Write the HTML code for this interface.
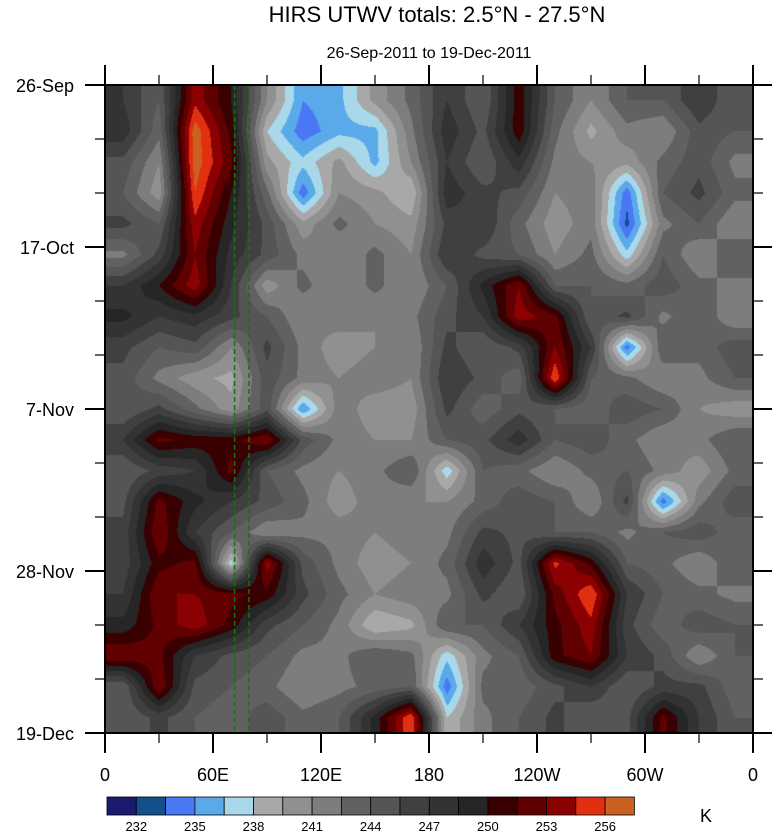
<!DOCTYPE html>
<html><head><meta charset="utf-8"><style>
body{margin:0;background:#fff;position:relative;width:772px;height:834px;overflow:hidden;}
svg{display:block;font-family:"Liberation Sans",sans-serif;position:absolute;left:0;top:0;}
canvas{position:absolute;left:105px;top:85px;}
</style></head><body>
<canvas id="field" width="648" height="648"></canvas>
<svg id="chart" width="772" height="834" viewBox="0 0 772 834">
<text x="437" y="22" font-size="22" text-anchor="middle">HIRS UTWV totals: 2.5°N - 27.5°N</text>
<text x="429" y="58" font-size="16" text-anchor="middle">26-Sep-2011 to 19-Dec-2011</text>
<g id="guides"></g>
<rect x="105" y="85" width="648" height="648" fill="none" stroke="#000" stroke-width="2"/>
<g id="axes"></g>
<g id="colorbar"></g>
<text x="700" y="822" font-size="18">K</text>
</svg>
<script>
const lonTickLabels = ["0","60E","120E","180","120W","60W","0"];
const timeTickLabels = ["26-Sep","17-Oct","7-Nov","28-Nov","19-Dec"];
const levelLabels = [232,235,238,241,244,247,250,253,256];
const levelColors = ["#1a1a6e","#134f8a","#4a78f5","#5aaaea","#a8d8ea","#a8a8a8","#909090","#7d7d7d","#616161","#555555","#404040","#333333","#262626","#380000","#600000","#8b0000","#e03010","#cc6020"];
const guideLons = [72, 80];
const row00 = [247,244,254,250,241,235,236,240,243,247,244,251,244,241,244,244,247,244];
const row01 = [248,243,257,251,238,234,236,236,242,248,245,251,243,239,242,241,245,244];
const row02 = [245,241,257,252,240,237,240,236,241,247,244,248,242,241,240,243,245,242];
const row03 = [244,240,256,250,243,234,241,240,238,248,246,245,241,242,234,244,246,243];
const row04 = [246,244,254,249,245,240,243,241,240,246,247,243,240,242,233,242,244,241];
const row05 = [242,246,253,248,245,242,241,243,241,247,245,244,241,243,237,244,241,244];
const row06 = [247,250,254,247,240,243,241,243,241,244,249,253,244,244,243,245,243,242];
const row07 = [249,247,248,246,244,241,242,241,242,245,247,254,252,244,246,242,244,241];
const row08 = [246,244,245,241,246,242,240,241,241,246,244,246,253,247,234,244,243,245];
const row09 = [245,242,240,239,245,242,241,242,241,247,245,243,256,244,243,241,242,244];
const row10 = [244,246,243,240,245,235,242,240,240,246,243,245,244,243,245,244,241,240];
const row11 = [247,252,251,251,253,245,242,241,241,244,245,248,244,245,243,241,242,244];
const row12 = [244,246,247,252,244,242,241,242,244,237,244,243,241,243,244,242,240,243];
const row13 = [245,252,249,247,245,243,240,242,241,241,243,245,244,241,246,234,242,245];
const row14 = [246,253,247,244,241,242,242,241,242,242,246,245,244,244,242,244,245,243];
const row15 = [246,251,252,237,254,245,242,240,241,243,248,245,255,251,244,243,241,244];
const row16 = [247,253,253,252,251,246,243,241,242,242,246,244,252,256,247,244,243,242];
const row17 = [249,252,254,251,246,244,242,238,239,244,244,247,251,254,246,243,245,244];
const row18 = [253,252,247,245,244,242,242,244,243,237,242,244,251,253,247,245,241,244];
const row19 = [244,253,245,244,243,241,242,243,244,234,243,243,245,247,244,246,246,243];
const row20 = [244,246,244,243,245,243,244,249,256,238,242,244,246,244,245,252,247,244];
const field = [row00,row01,row02,row03,row04,row05,row06,row07,row08,row09,row10,row11,row12,row13,row14,row15,row16,row17,row18,row19,row20];

const NS="http://www.w3.org/2000/svg";
const X0=105,Y0=85,W=648,H=648,DAYS=84;
const xLon=l=>X0+l/360*W;
const yDay=d=>Y0+d/DAYS*H;
function levelFor(v){let k=Math.floor((v-232)/1.5)+1;if(k<0)k=0;if(k>17)k=17;return k;}
function hex(c){return [parseInt(c.substr(1,2),16),parseInt(c.substr(3,2),16),parseInt(c.substr(5,2),16)];}
const rgb=levelColors.map(hex);
function mk(tag,attrs,parent){const e=document.createElementNS(NS,tag);for(const a in attrs)e.setAttribute(a,attrs[a]);parent.appendChild(e);return e;}

const cv=document.getElementById('field');const ctx=cv.getContext('2d');
const img=ctx.createImageData(W,H);
const nR=field.length,nC=field[0].length;
const cw=W/nC,ch=H/nR;
for(let py=0;py<H;py++){
  let fy=(py+0.5)/ch-0.5;if(fy<0)fy=0;if(fy>nR-1)fy=nR-1;
  const j0=Math.floor(fy),j1=Math.min(j0+1,nR-1),ty=fy-j0;
  for(let px=0;px<W;px++){
    let fx=(px+0.5)/cw-0.5;if(fx<0)fx=0;if(fx>nC-1)fx=nC-1;
    const i0=Math.floor(fx),i1=Math.min(i0+1,nC-1),tx=fx-i0;
    const v=(field[j0][i0]*(1-tx)+field[j0][i1]*tx)*(1-ty)+(field[j1][i0]*(1-tx)+field[j1][i1]*tx)*ty;
    const c=rgb[levelFor(v)];const o=(py*W+px)*4;
    img.data[o]=c[0];img.data[o+1]=c[1];img.data[o+2]=c[2];img.data[o+3]=255;
  }
}
ctx.putImageData(img,0,0);

const guides=document.getElementById('guides');
guideLons.forEach(l=>{
  const g=mk('line',{x1:xLon(l),x2:xLon(l),y1:Y0,y2:Y0+H,stroke:'#0a7a0a','stroke-width':1.5,'stroke-dasharray':'5,3'},guides);
  
  
});

const axes=document.getElementById('axes');
for(let l=0;l<=360;l+=30){
  const major=l%60===0,len=major?20:10,x=xLon(l);
  mk('line',{x1:x,x2:x,y1:Y0+H,y2:Y0+H+len,stroke:'#000','stroke-width':major?2:1.2},axes);
  mk('line',{x1:x,x2:x,y1:Y0,y2:Y0-len,stroke:'#000','stroke-width':major?2:1.2},axes);
}
lonTickLabels.forEach((t,i)=>{
  const e=mk('text',{x:xLon(i*60),y:Y0+H+48,'font-size':18,'text-anchor':'middle'},axes);e.textContent=t;
  
  
});
for(let d=0;d<=DAYS;d+=7){
  const major=d%21===0,len=major?20:10,y=yDay(d);
  mk('line',{x1:X0,x2:X0-len,y1:y,y2:y,stroke:'#000','stroke-width':major?2:1.2},axes);
  mk('line',{x1:X0+W,x2:X0+W+len,y1:y,y2:y,stroke:'#000','stroke-width':major?2:1.2},axes);
}
timeTickLabels.forEach((t,i)=>{
  const e=mk('text',{x:74,y:yDay(i*21)+7,'font-size':18,'text-anchor':'end'},axes);e.textContent=t;
  
  
});

const cb=document.getElementById('colorbar');
const CBX=107,CBW=29.3,CBY=797,CBH=18;
levelColors.forEach((c,k)=>{
  const r=mk('rect',{x:CBX+k*CBW,y:CBY,width:CBW,height:CBH,fill:c,stroke:'#000','stroke-width':0.8},cb);
  
  
});
levelLabels.forEach(v=>{
  const k=(v-232)/1.5+1;
  const e=mk('text',{x:CBX+k*CBW,y:CBY+CBH+16,'font-size':13,'text-anchor':'middle'},cb);e.textContent=v;
  
  
});
</script>
</body></html>
